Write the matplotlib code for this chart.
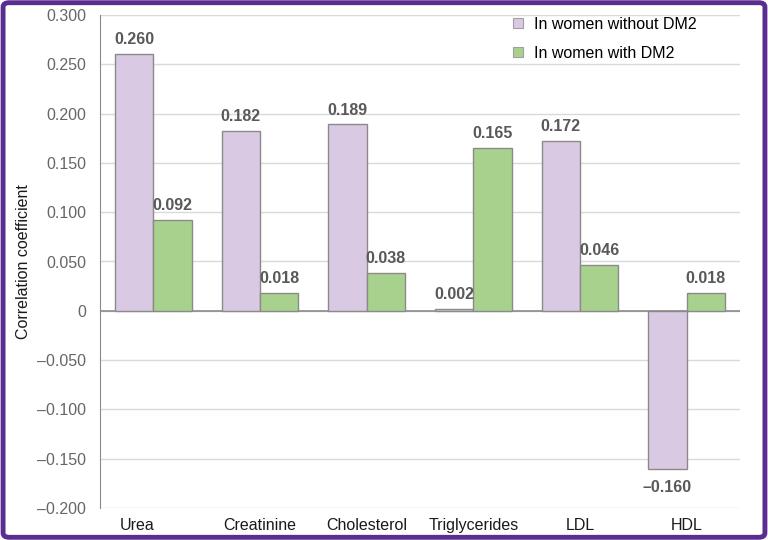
import matplotlib
matplotlib.use("Agg")
import matplotlib.pyplot as plt
import matplotlib.transforms as mtransforms
from matplotlib.lines import Line2D
import numpy as np
from matplotlib.patches import FancyBboxPatch

categories = ["Urea", "Creatinine", "Cholesterol", "Triglycerides", "LDL", "HDL"]
without_dm2 = [0.260, 0.182, 0.189, 0.002, 0.172, -0.160]
with_dm2 = [0.092, 0.018, 0.038, 0.165, 0.046, 0.018]
series_names = ["In women without DM2", "In women with DM2"]
yticks = [0.300, 0.250, 0.200, 0.150, 0.100, 0.050, 0.0, -0.050, -0.100, -0.150, -0.200]

plt.rcParams['font.family'] = ['Liberation Sans', 'DejaVu Sans']

fig = plt.figure(figsize=(7.68, 5.4), dpi=100)
ax = fig.add_axes([100/768, 32/540, 640/768, 493/540])

x = np.arange(len(categories))
w = 0.36
c1, c2 = "#d9c9e3", "#a9d18e"
edge = "#8a8a8a"
b1 = ax.bar(x - w/2, without_dm2, w, color=c1, edgecolor=edge, linewidth=1, zorder=3)
b2 = ax.bar(x + w/2, with_dm2, w, color=c2, edgecolor=edge, linewidth=1, zorder=3)

def fmt(v):
    s = f"{abs(v):.3f}"
    return ("\u2013" + s) if v < 0 else s

fs = 11.5
for bars, vals in ((b1, without_dm2), (b2, with_dm2)):
    for b, v in zip(bars, vals):
        cx = b.get_x() + b.get_width()/2
        if v >= 0:
            ax.annotate(fmt(v), (cx, v), xytext=(0, 5), textcoords="offset points",
                        ha="center", va="bottom", fontsize=fs, fontweight="bold", color="#595959")
        else:
            ax.annotate(fmt(v), (cx, v), xytext=(0, -8), textcoords="offset points",
                        ha="center", va="top", fontsize=fs, fontweight="bold", color="#595959")

ax.set_xlim(-0.5, len(categories) - 0.5)
ax.set_ylim(-0.2, 0.3)
ax.set_yticks(yticks)
ax.set_yticklabels(["0" if t == 0 else fmt(t) for t in yticks], color="#666666", fontsize=fs)
ax.set_xticks(x)
ax.set_xticklabels(categories, fontsize=fs, color="#1a1a1a")
ax.tick_params(axis="both", length=0)
ax.tick_params(axis="y", pad=10)
ax.tick_params(axis="x", pad=7)
# first category label sits left of its group in the reference
lbl0 = ax.get_xticklabels()[0]
lbl0.set_transform(lbl0.get_transform() + mtransforms.ScaledTranslation(-16/100, 0, fig.dpi_scale_trans))

ax.grid(axis="y", color="#d9d9d9", linewidth=1, zorder=0)
ax.axhline(0, color="#8a8a8a", linewidth=1.2, zorder=2)
for s in ["top", "right", "bottom"]:
    ax.spines[s].set_visible(False)
ax.spines["left"].set_color("#8a8a8a")
ax.set_ylabel("Correlation coefficient", fontsize=fs, color="#1a1a1a")
ax.yaxis.set_label_coords(-0.108, 0.5)

handles = [Line2D([], [], linestyle="", marker="s", markersize=6.5, markerfacecolor=c,
                  markeredgecolor="#a0a0a0", markeredgewidth=0.8) for c in (c1, c2)]
leg = ax.legend(handles, series_names, loc="upper right", bbox_to_anchor=(0.955, 1.025),
                frameon=False, fontsize=fs, handlelength=0.8, handletextpad=0.6, labelspacing=0.85)

border = FancyBboxPatch((0.004, 0.005), 0.992, 0.99, boxstyle="round,pad=0,rounding_size=0.008",
                        transform=fig.transFigure, fill=False, edgecolor="#5c2d91", linewidth=3.5)
fig.patches.append(border)

fig.savefig("out.png", dpi=100)
